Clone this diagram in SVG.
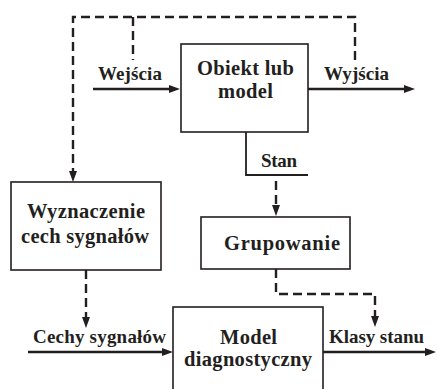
<svg xmlns="http://www.w3.org/2000/svg" width="437" height="389" viewBox="0 0 437 389">
<defs>
<style>
.box{fill:#fff;stroke:#231f20;stroke-width:1.6}
.t{font-family:"Liberation Serif","Times New Roman",serif;font-weight:bold;fill:#231f20;text-anchor:start}
.bt{font-size:20.5px}
.lt{font-size:19px}
.solid{fill:none;stroke:#231f20;stroke-width:2.4}
.thin{fill:none;stroke:#231f20;stroke-width:1.8}
.dash{fill:none;stroke:#231f20;stroke-width:2.4;stroke-dasharray:9 5}
</style>
<marker id="ah" viewBox="0 0 11 8" markerUnits="userSpaceOnUse" markerWidth="11" markerHeight="8" refX="3" refY="4" orient="auto">
<path d="M0,0 L11,4 L0,8 z" fill="#231f20"/>
</marker>
</defs>
<rect width="437" height="389" fill="#fff"/>
<g id="connectors">
<path class="dash" d="M355,60 V17 H73 V174" marker-end="url(#ah)"/>
<path class="dash" d="M133,17 V60"/>
<path class="solid" d="M93,89 H172" marker-end="url(#ah)"/>
<path class="solid" d="M308,89 H407" marker-end="url(#ah)"/>
<circle cx="246" cy="124" r="2.2" fill="#231f20"/>
<path class="thin" d="M246,124 V175 H308"/>
<path class="dash" d="M276,181 V208" marker-end="url(#ah)"/>
<path class="dash" d="M276,269 V294 H375 V319" marker-end="url(#ah)"/>
<path class="dash" d="M86,270 V320" marker-end="url(#ah)"/>
<path class="solid" d="M28,352 H165" marker-end="url(#ah)"/>
<path class="solid" d="M323,352 H428" marker-end="url(#ah)"/>
</g>
<g id="labels">
<text class="t lt" x="98" y="80" textLength="64" lengthAdjust="spacing">Wejścia</text>
<text class="t lt" x="324" y="80" textLength="65" lengthAdjust="spacing">Wyjścia</text>
<text class="t lt" x="261" y="167" textLength="36" lengthAdjust="spacing">Stan</text>
<text class="t lt" x="33" y="343" textLength="133" lengthAdjust="spacing">Cechy sygnałów</text>
<text class="t lt" x="329" y="343" textLength="95" lengthAdjust="spacing">Klasy stanu</text>
</g>
<g id="obiekt">
<rect class="box" x="181" y="44" width="127" height="88"/>
<text class="t bt" x="197" y="75" textLength="97" lengthAdjust="spacing">Obiekt lub</text>
<text class="t bt" x="218" y="98" textLength="55" lengthAdjust="spacing">model</text>
</g>
<g id="wyznaczenie">
<rect class="box" x="11" y="182" width="150" height="88"/>
<text class="t bt" x="27" y="218" textLength="118" lengthAdjust="spacing">Wyznaczenie</text>
<text class="t bt" x="21" y="243" textLength="128" lengthAdjust="spacing">cech sygnałów</text>
</g>
<g id="grupowanie">
<rect class="box" x="201" y="217" width="149" height="52"/>
<text class="t bt" x="224" y="250" textLength="116" lengthAdjust="spacing">Grupowanie</text>
</g>
<g id="model">
<rect class="box" x="173" y="307" width="150" height="100"/>
<text class="t bt" x="220" y="344" textLength="57" lengthAdjust="spacing">Model</text>
<text class="t bt" x="184" y="366" textLength="128" lengthAdjust="spacing">diagnostyczny</text>
</g>
</svg>
